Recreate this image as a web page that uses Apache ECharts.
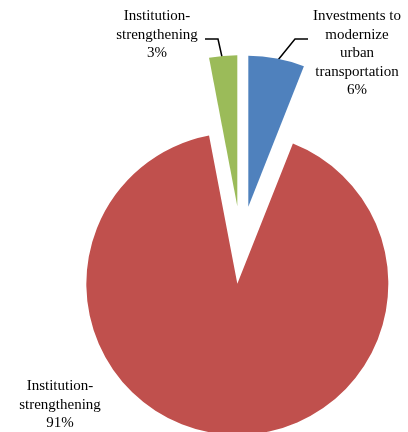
<!DOCTYPE html>
<html>
<head>
<meta charset="utf-8">
<script src="https://cdn.jsdelivr.net/npm/echarts@6/dist/echarts.min.js"></script>
<style>
  html, body { margin: 0; padding: 0; background: #fff; }
  #chart { width: 408px; height: 432px; }
</style>
</head>
<body>
<div id="chart"></div>
<script>
// Share of funding by component (percent)
const categories = [
  'Investments to\nmodernize\nurban\ntransportation',
  'Institution-\nstrengthening',
  'Institution-\nstrengthening'
];
const shares = [6, 91, 3];
const colors = ['#4F81BD', '#C0504D', '#9BBB59'];

// Label placement for each slice: text anchor (centre, top) and leader line
const labelSpots = [
  { x: 357, y: 7, line: [[278, 60], [295, 39], [308, 39]] },
  { x: 60, y: 377, line: null },
  { x: 157, y: 7, line: [[222, 57], [218, 39], [205, 39]] }
];

const chart = echarts.init(document.getElementById('chart'), null, { renderer: 'canvas' });

const data = categories.map((name, i) => ({
  name: name,
  value: shares[i],
  selected: true,
  itemStyle: { color: colors[i] }
}));

const graphics = [];
categories.forEach((name, i) => {
  const s = labelSpots[i];
  graphics.push({
    type: 'text',
    x: s.x,
    y: s.y,
    style: {
      text: name + '\n' + shares[i] + '%',
      fontFamily: 'Liberation Serif',
      fontSize: 15,
      lineHeight: 18.5,
      fill: '#000',
      align: 'center',
      verticalAlign: 'top'
    }
  });
  if (s.line) {
    graphics.push({
      type: 'polyline',
      shape: { points: s.line },
      style: { stroke: '#000', lineWidth: 1.5, fill: null }
    });
  }
});

chart.setOption({
  animation: false,
  backgroundColor: '#ffffff',
  graphic: graphics,
  series: [{
    type: 'pie',
    center: [241, 245],
    radius: [0, 151],
    startAngle: 90,
    clockwise: true,
    selectedMode: 'multiple',
    selectedOffset: 39,
    emphasis: { disabled: true },
    label: { show: false },
    labelLine: { show: false },
    data: data
  }]
});
</script>
</body>
</html>
